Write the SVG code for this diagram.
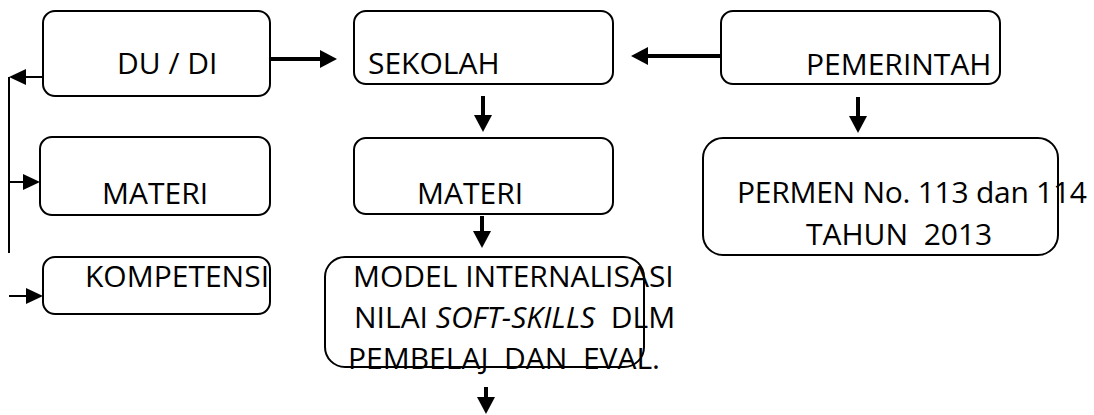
<svg xmlns="http://www.w3.org/2000/svg" width="1094" height="415" viewBox="0 0 1094 415">
<defs>
<style>
.box{fill:#fff;stroke:#000;stroke-width:2}
.t{font-family:"Open Sans","Liberation Sans",sans-serif;font-size:30px;fill:#000;white-space:pre}
.thick{stroke:#000;stroke-width:4;fill:none}
.thin{stroke:#000;stroke-width:2;fill:none}
</style>
<marker id="ah" markerUnits="userSpaceOnUse" markerWidth="18" markerHeight="20" refX="0" refY="10" orient="auto" overflow="visible">
<path d="M0,1 L17,10 L0,19 Z" fill="#000"/>
</marker>
<marker id="ahs" markerUnits="userSpaceOnUse" markerWidth="18" markerHeight="18" refX="0" refY="8" orient="auto" overflow="visible">
<path d="M0,0 L17,8 L0,16 Z" fill="#000"/>
</marker>
</defs>
<rect width="1094" height="415" fill="#fff"/>
<g id="connectors">
<line class="thick" x1="270" y1="59" x2="320" y2="59" marker-end="url(#ah)"/>
<line class="thick" x1="721" y1="56" x2="648" y2="56" marker-end="url(#ah)"/>
<line class="thick" x1="483" y1="96" x2="483" y2="115" marker-end="url(#ah)"/>
<line class="thick" x1="482" y1="216" x2="482" y2="231" marker-end="url(#ah)"/>
<line class="thick" x1="486" y1="387" x2="486" y2="397" marker-end="url(#ah)"/>
<line class="thick" x1="858" y1="97" x2="858" y2="116" marker-end="url(#ah)"/>
<line class="thin" x1="43" y1="77" x2="26" y2="77" marker-end="url(#ahs)"/>
<line class="thin" x1="9" y1="77" x2="9" y2="253"/>
<line class="thin" x1="9" y1="182" x2="23" y2="182" marker-end="url(#ahs)"/>
<line class="thin" x1="9" y1="296" x2="26" y2="296" marker-end="url(#ahs)"/>
</g>
<g id="dudi">
<rect class="box" x="43" y="11" width="227" height="85" rx="12"/>
<text class="t" x="117" y="74">DU / DI</text>
</g>
<g id="sekolah">
<rect class="box" x="354" y="11" width="259" height="73" rx="12"/>
<text class="t" x="368" y="74">SEKOLAH</text>
</g>
<g id="pemerintah">
<rect class="box" x="721" y="11" width="279" height="73" rx="12"/>
<text class="t" x="806" y="75">PEMERINTAH</text>
</g>
<g id="materi-left">
<rect class="box" x="40" y="137" width="230" height="78" rx="12"/>
<text class="t" x="102" y="204">MATERI</text>
</g>
<g id="materi-mid">
<rect class="box" x="354" y="138" width="259" height="76" rx="12"/>
<text class="t" x="417" y="204">MATERI</text>
</g>
<g id="permen">
<rect class="box" x="703" y="138" width="355" height="117" rx="20"/>
<text class="t" x="737" y="203" textLength="350">PERMEN No. 113 dan 114</text>
<text class="t" x="806" y="245">TAHUN  2013</text>
</g>
<g id="kompetensi">
<rect class="box" x="43" y="257" width="227" height="57" rx="12"/>
<text class="t" x="85" y="287">KOMPETENSI</text>
</g>
<g id="model">
<rect class="box" x="325" y="257" width="319" height="110" rx="20"/>
<text class="t" x="353" y="287">MODEL INTERNALISASI</text>
<text class="t" x="354" y="328">NILAI <tspan font-style="italic">SOFT-SKILLS</tspan>  DLM</text>
<text class="t" x="348" y="369">PEMBELAJ  DAN  EVAL.</text>
</g>
</svg>
